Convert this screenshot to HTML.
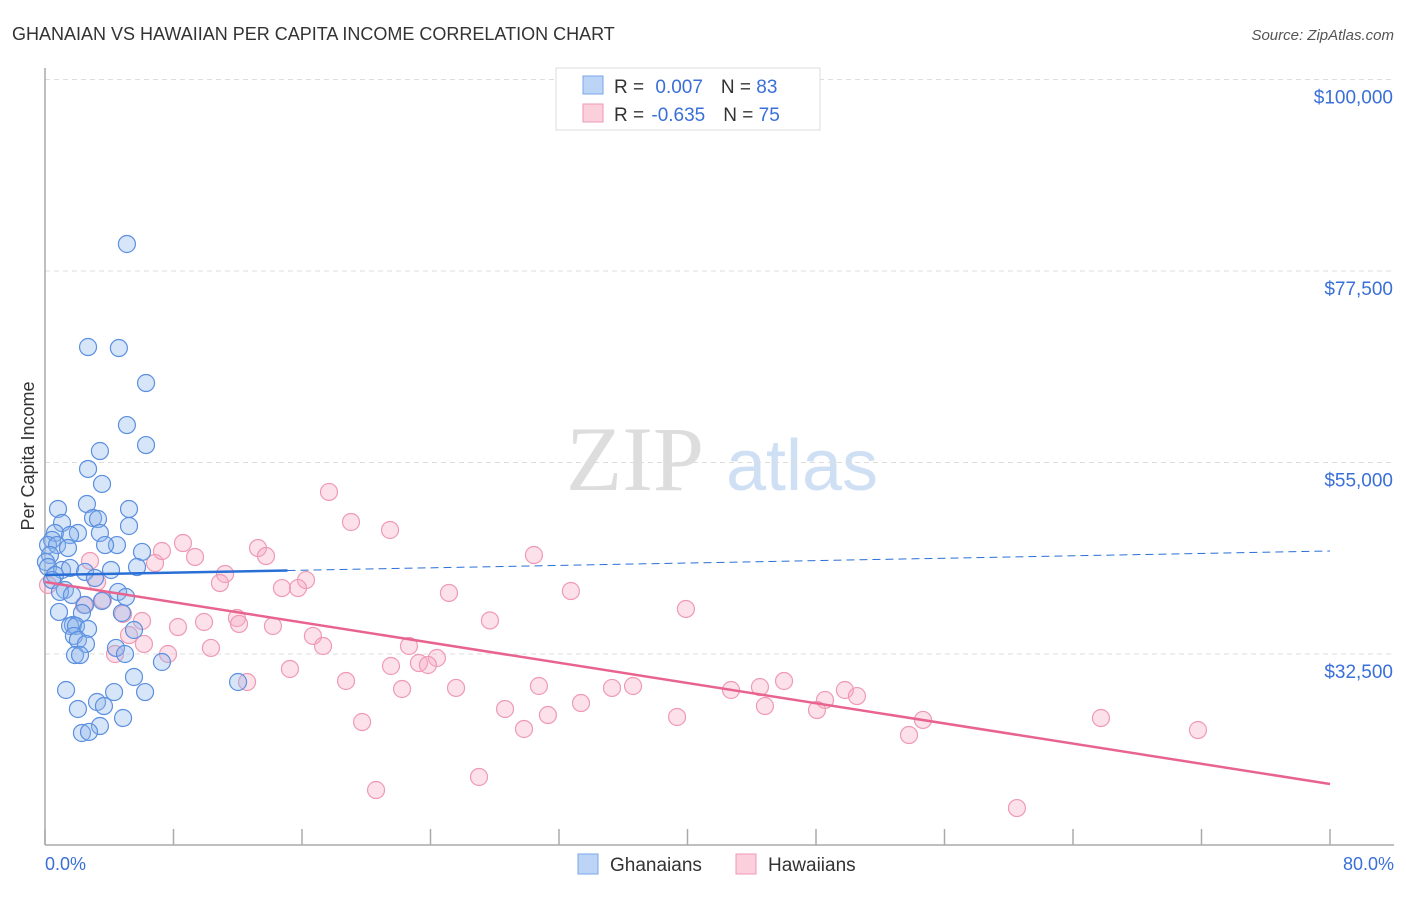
<!DOCTYPE html>
<html><head><meta charset="utf-8"><style>
body{margin:0;background:#fff;font-family:"Liberation Sans",sans-serif;}
svg text{font-family:"Liberation Sans",sans-serif;}
</style></head><body>
<svg id="chart" width="1406" height="892">
<text x="12" y="40" font-size="18" fill="#333">GHANAIAN VS HAWAIIAN PER CAPITA INCOME CORRELATION CHART</text>
<text x="1394" y="40" font-size="15" fill="#555" font-style="italic" text-anchor="end">Source: ZipAtlas.com</text>
<g>
<text x="635" y="490" font-size="92" fill="#ddd" text-anchor="middle" font-family="Liberation Serif" style="font-family:'Liberation Serif',serif">ZIP</text>
<text x="802" y="490" font-size="72" fill="#cfe0f5" text-anchor="middle">atlas</text>
</g>
<g id="grid"></g><g id="axes"></g><g id="pts"></g><g id="trend"></g>
<text transform="translate(34,456) rotate(-90)" font-size="18" fill="#333" text-anchor="middle">Per Capita Income</text>
<text x="45" y="870" font-size="18" fill="#3a6fd8">0.0%</text>
<text x="1394" y="870" font-size="18" fill="#3a6fd8" text-anchor="end">80.0%</text>
<g>
<rect x="556" y="68" width="264" height="62" fill="#fff" stroke="#ddd"/>
<rect x="583" y="76" width="20" height="18" fill="#bcd5f7" stroke="#7aa5e8"/>
<rect x="583" y="104" width="20" height="18" fill="#fbcfdc" stroke="#ef9ab4"/>
<text x="614" y="93" font-size="19" fill="#333">R = <tspan fill="#3a6fd8" dx="6">0.007</tspan><tspan dx="18" fill="#333">N = </tspan><tspan fill="#3a6fd8">83</tspan></text>
<text x="614" y="121" font-size="19" fill="#333">R = <tspan fill="#3a6fd8" dx="2">-0.635</tspan><tspan dx="18" fill="#333">N = </tspan><tspan fill="#3a6fd8">75</tspan></text>
</g>
<g>
<rect x="578" y="854" width="20" height="20" fill="#bcd5f7" stroke="#7aa5e8"/>
<text x="610" y="871" font-size="19" fill="#333">Ghanaians</text>
<rect x="736" y="854" width="20" height="20" fill="#fbcfdc" stroke="#ef9ab4"/>
<text x="768" y="871" font-size="19" fill="#333">Hawaiians</text>
</g>
</svg>
<script>
const yTicks=[32500,55000,77500,100000];
const yTickLabels=["$32,500","$55,000","$77,500","$100,000"];
const xTicks=[0,8,16,24,32,40,48,56,64,72,80];
const blueX=[5.1,2.68,4.6,6.29,5.1,6.29,3.42,2.68,3.55,2.61,0.81,5.23,2.99,3.3,1.06,5.23,0.62,3.42,2.05,1.56,0.44,0.19,0.75,4.48,1.43,3.74,6.04,0.31,0.06,0.19,5.73,4.11,1.06,1.56,0.62,2.49,3.11,0.44,1.24,0.93,1.68,4.55,5.04,3.55,2.49,0.87,2.3,4.79,1.74,1.56,1.93,2.68,5.54,1.8,2.05,2.55,4.42,4.98,1.87,2.18,7.28,5.54,12.02,1.31,4.3,6.23,3.24,3.67,2.05,4.86,3.42,2.3,2.74];
const blueY=[80675,68570,68450,64340,59400,57050,56350,54240,52480,50120,49540,49540,48480,48360,47890,47540,46720,46720,46720,46480,45900,45300,45300,45300,44950,45300,44490,44130,43310,42720,42720,42370,42370,42610,41780,42140,41430,41190,40020,39790,39430,39790,39200,38730,38260,37440,37320,37320,35910,35790,35790,35440,35320,34620,34150,33680,33210,32500,32380,32380,31560,29800,29210,28270,28030,28030,26860,26390,26040,24980,24040,23220,23340];
const pinkX=[17.68,19.05,21.48,8.59,13.26,9.34,2.8,30.44,13.76,6.85,7.28,11.21,10.89,16.25,3.24,14.75,15.75,0.19,25.15,32.74,3.61,4.86,27.7,39.9,6.04,2.43,11.95,12.08,9.9,8.28,14.19,16.68,5.23,6.16,17.31,10.33,22.66,7.66,4.36,24.4,23.28,21.54,23.84,15.25,12.58,18.74,30.75,22.23,25.59,35.3,36.61,46.01,44.51,42.71,49.8,50.55,48.56,33.37,44.82,48.06,28.64,31.31,39.35,54.66,65.74,19.74,29.82,53.79,71.78,27.02,20.61,60.51];
const pinkY=[51540,48010,47070,45540,44950,43900,43430,44130,44010,43190,44600,41900,40840,41190,40960,40250,40250,40610,39670,39900,38850,37200,36440,37790,36380,38260,36730,36030,36260,35670,35790,34620,34730,33680,33440,33210,33440,32500,32500,32030,31440,31090,31210,30740,29210,29330,28740,28390,28510,28510,28740,29330,28620,28270,28270,27560,27100,26740,26390,25920,26040,25330,25100,24750,24980,24510,23690,22980,23570,18050,16520,14400];
const blueTrend=[41780,44600];
const pinkTrend=[40960,17225];
const NS="http://www.w3.org/2000/svg";
const X=p=>45+p*(1285/80);
const Y=v=>654-(v-32500)*(191.5/22500);
function mk(tag,attrs,parent){const e=document.createElementNS(NS,tag);for(const k in attrs)e.setAttribute(k,attrs[k]);document.getElementById(parent).appendChild(e);return e;}
yTicks.forEach((v,i)=>{
 const l=mk('line',{x1:45,x2:1394,y1:Y(v),y2:Y(v),stroke:'#ddd','stroke-dasharray':'5,4'},'grid');
 
 
 const t=mk('text',{x:1393,y:Y(v)+24,'font-size':19,fill:'#3a6fd8','text-anchor':'end'},'grid');
 t.textContent=yTickLabels[i];
 
 
});
const ax=mk('line',{x1:45,x2:45,y1:68,y2:845,stroke:'#aaa','stroke-width':1.5},'axes');


const bx=mk('line',{x1:45,x2:1394,y1:845,y2:845,stroke:'#aaa','stroke-width':1.5},'axes');


xTicks.forEach(p=>{
 const t=mk('line',{x1:X(p),x2:X(p),y1:829,y2:845,stroke:'#aaa','stroke-width':1.5},'axes');
 
 
});
pinkX.forEach((p,i)=>{
 const c=mk('circle',{cx:X(p),cy:Y(pinkY[i]),r:8.5,fill:'rgba(246,170,195,0.35)',stroke:'#ef9ab4','stroke-width':1.2},'pts');
 
 
});
blueX.forEach((p,i)=>{
 const c=mk('circle',{cx:X(p),cy:Y(blueY[i]),r:8.5,fill:'rgba(140,180,235,0.35)',stroke:'#5b8fe0','stroke-width':1.2},'pts');
 
 
});
const bAt=p=>blueTrend[0]+(blueTrend[1]-blueTrend[0])*p/80;
const b1=mk('line',{x1:X(0),y1:Y(bAt(0)),x2:X(15.1),y2:Y(bAt(15.1)),stroke:'#2a6fd6','stroke-width':2.5},'trend');


const b2=mk('line',{x1:X(15.1),y1:Y(bAt(15.1)),x2:X(80),y2:Y(bAt(80)),stroke:'#2a6fd6','stroke-width':1,'stroke-dasharray':'8,5'},'trend');


const p1=mk('line',{x1:X(0),y1:Y(pinkTrend[0]),x2:X(80),y2:Y(pinkTrend[1]),stroke:'#e8648f','stroke-width':2.5},'trend');


</script>
</body></html>
